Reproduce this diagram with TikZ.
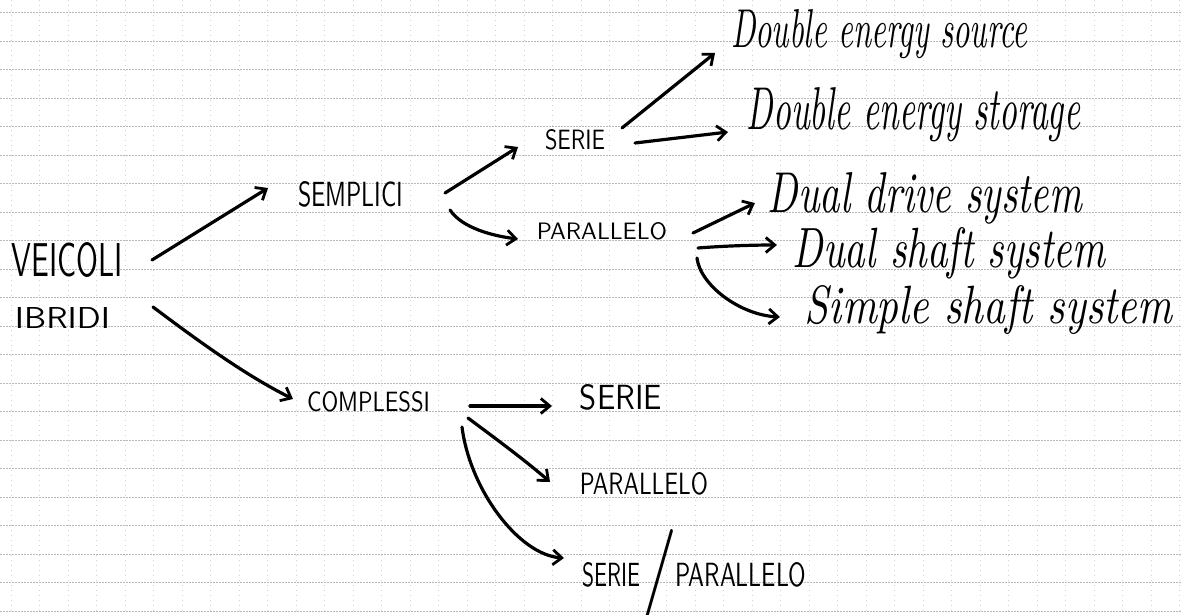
\documentclass[tikz,border=0pt]{standalone}
\usepackage{graphicx}
\usetikzlibrary{arrows.meta}

% label boxes stretched to a given width and height (in pt)
\newcommand\capsbox[3]{\resizebox{#1pt}{#2pt}{\sffamily #3}}
\newcommand\handbox[3]{\resizebox{#1pt}{#2pt}{\itshape #3}}

\tikzset{
  lbl/.style={inner sep=0pt, outer sep=0pt, anchor=center},
  arr/.style={line width=3.2pt, line cap=round, line join=round,
              -{Straight Barb[length=9pt,width=15pt,line width=2.8pt]}},
  hgrid/.style={gray!55, line width=0.5pt, dash pattern=on 1.5pt off 1.5pt},
  vgrid/.style={gray!35, line width=0.5pt, dash pattern=on 1pt off 4pt},
}

\begin{document}
\begin{tikzpicture}[x=1pt, y=-1pt]
  \useasboundingbox (0,0) rectangle (1181,615);
  \fill[white] (0,0) rectangle (1181,615);

  % squared paper
  \foreach \k in {0,...,41} \draw[vgrid] ({11+28.5*\k},0) -- ({11+28.5*\k},615);
  \foreach \k in {0,...,21} \draw[hgrid] (0,{12.5+28.5*\k}) -- (1181,{12.5+28.5*\k});

  % labels
  \node[lbl] (veicoli)    at (67.5,260)   {\capsbox{111}{34}{VEICOLI}};
  \node[lbl] (ibridi)     at (62.5,317.5) {\capsbox{95}{21}{IBRIDI}};
  \node[lbl] (semplici)   at (350.5,194.5){\capsbox{105}{25}{SEMPLICI}};
  \node[lbl] (serieA)     at (575,140)    {\capsbox{60}{20}{SERIE}};
  \node[lbl] (paralleloA) at (602,231.5)  {\capsbox{130}{17}{PARALLELO}};
  \node[lbl] (des)        at (879,34)     {\handbox{296}{38}{Double energy source}};
  \node[lbl] (dest)       at (913.5,115)  {\handbox{333}{42}{Double energy storage}};
  \node[lbl] (dds)        at (925,198)    {\handbox{314}{40}{Dual drive system}};
  \node[lbl] (dss)        at (949,253)    {\handbox{312}{40}{Dual shaft system}};
  \node[lbl] (sss)        at (988.5,310)  {\handbox{367}{38}{Simple shaft system}};
  \node[lbl] (complessi)  at (368.5,402)  {\capsbox{123}{20}{COMPLESSI}};
  \node[lbl] (serieB)     at (621,397.5)  {\capsbox{82}{25}{SERIE}};
  \node[lbl] (paralleloB) at (644,484)    {\capsbox{128}{22}{PARALLELO}};
  \node[lbl] (serieC)     at (611,575)    {\capsbox{58}{24}{SERIE}};
  \node[lbl] (slash)      at (659,575)    {\capsbox{36}{68}{/}};
  \node[lbl] (paralleloC) at (741,575)    {\capsbox{131}{24}{PARALLELO}};

  % connectors
  \draw[arr] ([shift={(29,0)}]veicoli.east) -- ([shift={(-30,-6.5)}]semplici.west);
  \draw[arr] ([shift={(43,-10.5)}]ibridi.east)
     .. controls +(40,30) and +(-50,-25) .. ([shift={(-14,-3)}]complessi.west);

  \draw[arr] ([shift={(42,-1.5)}]semplici.east) -- ([shift={(-27,7)}]serieA.west);
  \draw[arr] ([shift={(47,15.5)}]semplici.east)
     .. controls +(12,18) and +(-25,-3) .. ([shift={(-19,7.5)}]paralleloA.west);

  \draw[arr] ([shift={(17,-12)}]serieA.east) -- ([shift={(-16,19)}]des.west);
  \draw[arr] ([shift={(30,3)}]serieA.east) -- ([shift={(-19,17)}]dest.west);

  \draw[arr] ([shift={(26,1.5)}]paralleloA.east) -- ([shift={(-13,5)}]dds.west);
  \draw[arr] ([shift={(31,16.5)}]paralleloA.east)
     .. controls +(25,-2) and +(-25,0) .. ([shift={(-16,-8)}]dss.west);
  \draw[arr] ([shift={(30,26.5)}]paralleloA.east)
     .. controls +(3,27) and +(-40,-2) .. ([shift={(-25,7)}]sss.west);

  \draw[arr] ([shift={(40,4)}]complessi.east) -- ([shift={(-28,8.5)}]serieB.west);
  \draw[arr] ([shift={(38,16)}]complessi.east)
     .. controls +(20,15) and +(-25,-22) .. ([shift={(-30,-2)}]paralleloB.west);
  \draw[arr] ([shift={(32,25)}]complessi.east)
     .. controls +(8,63) and +(-45,-3) .. ([shift={(-18,-17)}]serieC.west);
\end{tikzpicture}
\end{document}
